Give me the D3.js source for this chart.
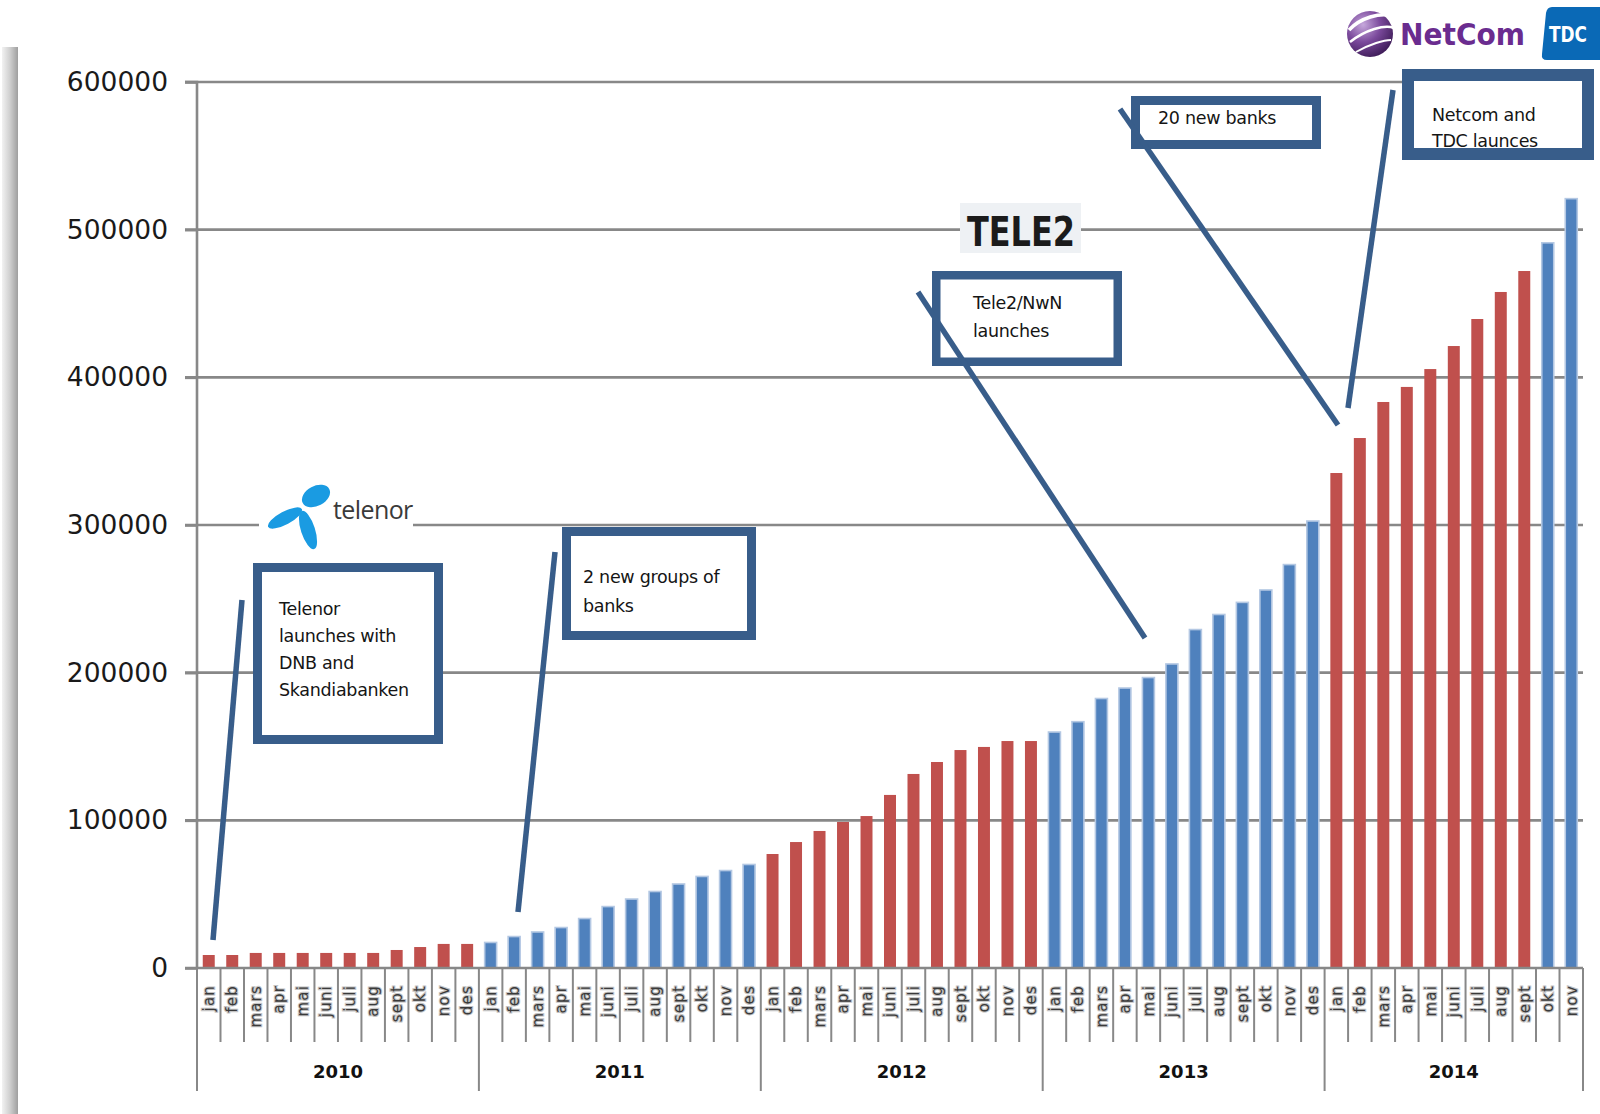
<!DOCTYPE html>
<html>
<head>
<meta charset="utf-8">
<script src="https://cdn.jsdelivr.net/npm/d3@7/dist/d3.min.js"></script>
<style>
  html, body { margin: 0; padding: 0; background: #ffffff; }
  svg { display: block; }
</style>
</head>
<body>
<svg id="chart" width="1600" height="1114"></svg>
<script>
// ---------------- DATA ----------------
const years = ["2010", "2011", "2012", "2013", "2014"];
const months = ["jan", "feb", "mars", "apr", "mai", "juni", "juli", "aug", "sept", "okt", "nov", "des"];
const months2014 = ["jan", "feb", "mars", "apr", "mai", "juni", "juli", "aug", "sept", "okt", "nov"];

const values2010 = [8800, 8800, 10200, 10200, 10200, 10200, 10200, 10200, 12200, 14200, 16300, 16300];
const values2011 = [17300, 21300, 24400, 27400, 33500, 41600, 46700, 51800, 56900, 62000, 66000, 70100];
const values2012 = [77200, 85300, 92800, 98900, 102900, 117200, 131400, 139500, 147600, 149700, 153700, 153700];
const values2013 = [159800, 166800, 182500, 189600, 196700, 205900, 229200, 239400, 247600, 256000, 273200, 302700];
const values2014 = [335200, 358900, 383300, 393500, 405600, 421200, 439500, 457800, 472000, 491100, 521000];

const colors2010 = ["r","r","r","r","r","r","r","r","r","r","r","r"];
const colors2011 = ["b","b","b","b","b","b","b","b","b","b","b","b"];
const colors2012 = ["r","r","r","r","r","r","r","r","r","r","r","r"];
const colors2013 = ["b","b","b","b","b","b","b","b","b","b","b","b"];
const colors2014 = ["r","r","r","r","r","r","r","r","r","b","b"];

const yTicks = [0, 100000, 200000, 300000, 400000, 500000, 600000];

const annotations = [
  { lines: ["Telenor", "launches with", "DNB and", "Skandiabanken"] },
  { lines: ["2 new groups of", "banks"] },
  { lines: ["Tele2/NwN", "launches"] },
  { lines: ["20 new banks"] },
  { lines: ["Netcom and", "TDC launces"] }
];

// ---------------- BUILD ----------------
const yearData = [
  { year: years[0], months: months, values: values2010, colors: colors2010 },
  { year: years[1], months: months, values: values2011, colors: colors2011 },
  { year: years[2], months: months, values: values2012, colors: colors2012 },
  { year: years[3], months: months, values: values2013, colors: colors2013 },
  { year: years[4], months: months2014, values: values2014, colors: colors2014 }
];
const bars = [];
yearData.forEach(yd => {
  yd.months.forEach((m, i) => {
    bars.push({ key: yd.year + "-" + m, year: yd.year, month: m, value: yd.values[i], color: yd.colors[i] });
  });
});

const svg = d3.select("#chart");
const RED = "#c0504d", BLUE = "#4f81bd", BLUE_EDGE = "#b4c8e3";
const GRID = "#888888", BOXC = "#385d8a";

const x0 = 197, x1 = 1583, yBase = 968, yTop = 82;
const x = d3.scaleBand().domain(bars.map(d => d.key)).range([x0, x1]).paddingInner(0.49).paddingOuter(0.245);
const y = d3.scaleLinear().domain([0, 600000]).range([yBase, yTop]);
const step = x.step();

// left grey decorative bar
const defs = svg.append("defs");
const lg = defs.append("linearGradient").attr("id", "leftbar").attr("x1", "0").attr("x2", "1").attr("y1", "0").attr("y2", "0");
lg.append("stop").attr("offset", "0").attr("stop-color", "#f2f2f2");
lg.append("stop").attr("offset", "0.5").attr("stop-color", "#cfcfcf");
lg.append("stop").attr("offset", "1").attr("stop-color", "#9f9f9f");
svg.append("rect").attr("x", 2).attr("y", 47).attr("width", 16).attr("height", 1067).attr("fill", "url(#leftbar)");

// gridlines
svg.append("g").attr("class", "grid")
  .selectAll("line").data(yTicks.filter(t => t > 0)).join("line")
  .attr("x1", 185).attr("x2", x1)
  .attr("y1", d => y(d)).attr("y2", d => y(d))
  .attr("stroke", GRID).attr("stroke-width", 2.6);

// y axis
const yAxis = d3.axisLeft(y).tickValues(yTicks).tickSize(12).tickPadding(17).tickFormat(d => String(d));
const gy = svg.append("g").attr("transform", `translate(${x0},0)`).call(yAxis);
gy.select(".domain").attr("stroke", GRID).attr("stroke-width", 2.6).attr("d", `M-12,${yTop}H0V${yBase}`);
gy.selectAll(".tick line").attr("stroke", GRID).attr("stroke-width", 2.6);
gy.selectAll(".tick text").attr("font-family", "DejaVu Sans, sans-serif").attr("font-size", 26.5).attr("fill", "#1a1a1a");

// bars
svg.append("g").selectAll("rect").data(bars).join("rect")
  .attr("x", d => x(d.key))
  .attr("width", x.bandwidth())
  .attr("y", d => y(d.value))
  .attr("height", d => y(0) - y(d.value))
  .attr("fill", d => d.color === "r" ? RED : BLUE)
  .attr("stroke", d => d.color === "r" ? "none" : BLUE_EDGE)
  .attr("stroke-width", 1.6);

// baseline
svg.append("line").attr("x1", 185).attr("x2", x1).attr("y1", yBase).attr("y2", yBase)
  .attr("stroke", GRID).attr("stroke-width", 2.6);

// category separators
const sepData = bars.map((d, i) => ({ x: x(d.key) - (step - x.bandwidth()) / 2, yearStart: i === 0 || d.month === "jan" }));
sepData.push({ x: x1, yearStart: true });
svg.append("g").selectAll("line").data(sepData).join("line")
  .attr("x1", d => d.x).attr("x2", d => d.x)
  .attr("y1", yBase).attr("y2", d => d.yearStart ? 1091 : 1042)
  .attr("stroke", GRID).attr("stroke-width", 2);

// month labels
svg.append("g").selectAll("text").data(bars).join("text")
  .attr("transform", d => `translate(${x(d.key) + x.bandwidth() / 2},985) rotate(-90)`)
  .attr("text-anchor", "end").attr("dy", "0.35em")
  .attr("font-family", "DejaVu Sans, sans-serif").attr("font-size", 15).attr("letter-spacing", 1.2)
  .attr("fill", "#3a3a3a").attr("stroke", "#c4c4c4").attr("stroke-width", 2.2).attr("paint-order", "stroke")
  .text(d => d.month);

// year labels
svg.append("g").selectAll("text").data(yearData).join("text")
  .attr("x", d => {
    const first = x(d.year + "-" + d.months[0]) - (step - x.bandwidth()) / 2;
    return first + step * d.months.length / 2;
  })
  .attr("y", 1078).attr("text-anchor", "middle")
  .attr("font-family", "DejaVu Sans, sans-serif").attr("font-size", 18).attr("font-weight", "bold").attr("fill", "#111")
  .text(d => d.year);

// ---------------- annotations ----------------
function box(bx, by, bw, bh, sw) {
  svg.append("rect").attr("x", bx + sw / 2).attr("y", by + sw / 2).attr("width", bw - sw).attr("height", bh - sw)
    .attr("fill", "#fff").attr("stroke", BOXC).attr("stroke-width", sw);
}
function label(lines, tx, ty, lh) {
  const t = svg.append("text").attr("font-family", "DejaVu Sans, sans-serif").attr("font-size", 17.5).attr("fill", "#151515").attr("letter-spacing", -0.3);
  lines.forEach((l, i) => t.append("tspan").attr("x", tx).attr("y", ty + i * lh).text(l));
}
function pointer(ax, ay, bx, by) {
  svg.append("line").attr("x1", ax).attr("y1", ay).attr("x2", bx).attr("y2", by)
    .attr("stroke", BOXC).attr("stroke-width", 5.5);
}

// Telenor logo
svg.append("rect").attr("x", 259).attr("y", 470).attr("width", 154).attr("height", 78).attr("fill", "#fff");
const tel = svg.append("g").attr("fill", "#1a9be2");
tel.append("ellipse").attr("cx", 0).attr("cy", 0).attr("rx", 15).attr("ry", 10).attr("transform", "translate(316,496) rotate(-28)");
tel.append("ellipse").attr("cx", 0).attr("cy", 0).attr("rx", 19).attr("ry", 6.5).attr("transform", "translate(285,518) rotate(-28)");
tel.append("ellipse").attr("cx", 0).attr("cy", 0).attr("rx", 20).attr("ry", 7).attr("transform", "translate(308,530) rotate(72)");
svg.append("text").attr("x", 333).attr("y", 519).attr("font-family", "Open Sans, sans-serif").attr("font-size", 25)
  .attr("fill", "#3a3a3a").attr("letter-spacing", -0.6).text("telenor");

// Box 1: Telenor
box(253, 563, 190, 181, 9);
label(annotations[0].lines, 279, 615, 27);
pointer(242, 600, 213, 940);

// Box 2: 2 new groups
box(562, 527, 194, 113, 9);
label(annotations[1].lines, 583, 583, 29);
pointer(555, 552, 518, 912);

// TELE2 logo
svg.append("rect").attr("x", 960).attr("y", 203).attr("width", 121).attr("height", 50).attr("fill", "#eef1f4");
svg.append("text").attr("x", 967).attr("y", 246).attr("font-family", "DejaVu Sans, sans-serif").attr("font-size", 40)
  .attr("font-weight", "bold").attr("fill", "#1b1b1b").attr("textLength", 108).attr("lengthAdjust", "spacingAndGlyphs").text("TELE2");

// Box 3: Tele2/NwN
box(932, 271, 190, 95, 8.5);
label(annotations[2].lines, 973, 309, 28);
pointer(918, 292, 1145, 638);

// Box 4: 20 new banks
box(1131, 96, 190, 53, 9);
label(annotations[3].lines, 1158, 124, 28);
pointer(1120, 109, 1338, 425);

// Box 5: Netcom & TDC
box(1402, 69, 192, 91, 12);
label(annotations[4].lines, 1432, 121, 26);
pointer(1393, 90, 1348, 408);

// NetCom logo
const rg = defs.append("radialGradient").attr("id", "globe").attr("cx", "0.35").attr("cy", "0.3").attr("r", "0.75");
rg.append("stop").attr("offset", "0").attr("stop-color", "#c6a8dc");
rg.append("stop").attr("offset", "0.5").attr("stop-color", "#7b4a9c");
rg.append("stop").attr("offset", "1").attr("stop-color", "#3e1c58");
svg.append("circle").attr("cx", 1370).attr("cy", 34).attr("r", 23).attr("fill", "url(#globe)");
svg.append("path").attr("d", "M1349,30 C1360,18 1380,12 1393,16").attr("fill", "none").attr("stroke", "#fff").attr("stroke-width", 3.5);
svg.append("path").attr("d", "M1350,42 C1365,30 1385,24 1394,28").attr("fill", "none").attr("stroke", "#fff").attr("stroke-width", 2.5);
svg.append("path").attr("d", "M1356,52 C1370,44 1384,40 1391,40").attr("fill", "none").attr("stroke", "#fff").attr("stroke-width", 2);
svg.append("text").attr("x", 1400).attr("y", 45).attr("font-family", "DejaVu Sans, sans-serif").attr("font-size", 31)
  .attr("font-weight", "bold").attr("fill", "#6a2c8f").attr("textLength", 125).attr("lengthAdjust", "spacingAndGlyphs").text("NetCom");

// TDC logo
svg.append("path").attr("d", "M1552,7 H1600 V60 H1547 Q1541,60 1542,54 L1546,13 Q1547,7 1552,7 Z").attr("fill", "#0a69b6");
svg.append("text").attr("x", 1549).attr("y", 42).attr("font-family", "DejaVu Sans, sans-serif").attr("font-size", 21)
  .attr("font-weight", "bold").attr("fill", "#fff").attr("textLength", 38).attr("lengthAdjust", "spacingAndGlyphs").text("TDC");
</script>
</body>
</html>
